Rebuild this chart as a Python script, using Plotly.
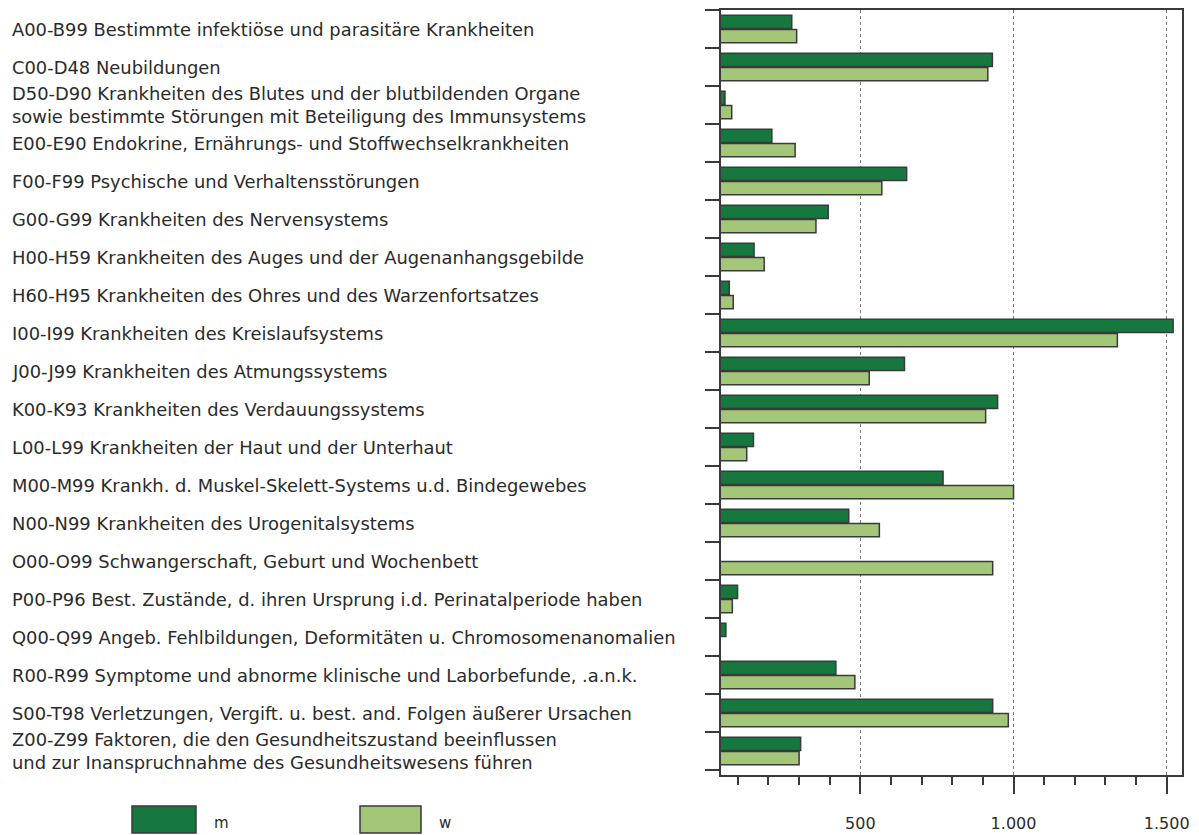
import plotly.graph_objects as go

categories = [
    "A00-B99 Bestimmte infektiöse und parasitäre Krankheiten",
    "C00-D48 Neubildungen",
    "D50-D90 Krankheiten des Blutes und der blutbildenden Organe<br>sowie bestimmte Störungen mit Beteiligung des Immunsystems",
    "E00-E90 Endokrine, Ernährungs- und Stoffwechselkrankheiten",
    "F00-F99 Psychische und Verhaltensstörungen",
    "G00-G99 Krankheiten des Nervensystems",
    "H00-H59 Krankheiten des Auges und der Augenanhangsgebilde",
    "H60-H95 Krankheiten des Ohres und des Warzenfortsatzes",
    "I00-I99 Krankheiten des Kreislaufsystems",
    "J00-J99 Krankheiten des Atmungssystems",
    "K00-K93 Krankheiten des Verdauungssystems",
    "L00-L99 Krankheiten der Haut und der Unterhaut",
    "M00-M99 Krankh. d. Muskel-Skelett-Systems u.d. Bindegewebes",
    "N00-N99 Krankheiten des Urogenitalsystems",
    "O00-O99 Schwangerschaft, Geburt und Wochenbett",
    "P00-P96 Best. Zustände, d. ihren Ursprung i.d. Perinatalperiode haben",
    "Q00-Q99 Angeb. Fehlbildungen, Deformitäten u. Chromosomenanomalien",
    "R00-R99 Symptome und abnorme klinische und Laborbefunde, .a.n.k.",
    "S00-T98 Verletzungen, Vergift. u. best. and. Folgen äußerer Ursachen",
    "Z00-Z99 Faktoren, die den Gesundheitszustand beeinflussen<br>und zur Inanspruchnahme des Gesundheitswesens führen",
]

m_values = [276, 931, 58, 211, 651, 395, 153, 72, 1521, 644, 948, 151, 770, 462, 0, 99, 61, 420, 932, 305]
w_values = [292, 916, 80, 287, 570, 355, 186, 85, 1339, 529, 909, 129, 1000, 562, 932, 82, 0, 482, 983, 300]

tick_values = [500, 1000, 1500]
tick_labels = ["500", "1.000", "1.500"]

DARK = "#17783f"
LIGHT = "#a3c679"
OUTLINE = "#3a3a3a"

ids = list(range(len(categories)))

fig = go.Figure()
fig.add_trace(go.Bar(
    y=ids, x=m_values, orientation="h", name="m",
    marker=dict(color=DARK, line=dict(color=OUTLINE, width=1.5)),
    showlegend=False,
))
fig.add_trace(go.Bar(
    y=ids, x=w_values, orientation="h", name="w",
    marker=dict(color=LIGHT, line=dict(color=OUTLINE, width=1.5)),
    showlegend=False,
))

font_family = "DejaVu Sans"
label_px = 10
plot_left = 721
plot_right = 1182
plot_top = 10
plot_bottom = 775
plot_w = plot_right - plot_left
plot_h = plot_bottom - plot_top

for i, cat in enumerate(categories):
    fig.add_annotation(
        x=(label_px - plot_left) / plot_w, xref="paper",
        y=i, yref="y", text=cat, showarrow=False,
        xanchor="left", yanchor="middle", align="left",
        font=dict(family=font_family, size=17.9, color="#2b2b2b"),
    )

# manual legend
legend_items = [("m", DARK, 132, 196, 212), ("w", LIGHT, 360, 421, 437)]
for name, col, x0, x1, tx in legend_items:
    fig.add_shape(
        type="rect", xref="paper", yref="paper",
        x0=(x0 - plot_left) / plot_w, x1=(x1 - plot_left) / plot_w,
        y0=-(833 - plot_bottom) / plot_h, y1=-(806 - plot_bottom) / plot_h,
        fillcolor=col, line=dict(color=OUTLINE, width=1.5),
    )
    fig.add_annotation(
        x=(tx - plot_left) / plot_w, xref="paper",
        y=-(823 - plot_bottom) / plot_h, yref="paper", text=name, showarrow=False,
        xanchor="left", yanchor="middle",
        font=dict(family=font_family, size=15, color="#2b2b2b"),
    )

fig.update_layout(
    width=1199, height=835,
    margin=dict(l=plot_left, r=1199 - plot_right, t=plot_top, b=835 - plot_bottom, autoexpand=False),
    plot_bgcolor="white", paper_bgcolor="white",
    barmode="group", bargap=0.26, bargroupgap=0.06,
    separators=",.",
    font=dict(family=font_family, color="#2b2b2b"),
)
fig.update_xaxes(
    range=[45, 1550],
    tickvals=tick_values, ticktext=tick_labels,
    ticks="outside", ticklen=17, tickwidth=1.5, tickcolor=OUTLINE,
    minor=dict(dtick=100, tick0=0, ticks="outside", ticklen=8, tickwidth=1.5, tickcolor=OUTLINE, showgrid=False),
    showgrid=True, gridcolor="#777777", griddash="dot", gridwidth=1,
    showline=True, linecolor=OUTLINE, linewidth=2, mirror=True,
    zeroline=False,
    tickfont=dict(family=font_family, size=16, color="#2b2b2b"),
    ticklabelstandoff=16,
)
fig.update_yaxes(
    type="category", autorange="reversed",
    tickmode="array", tickvals=ids, ticktext=[""] * len(ids),
    showticklabels=False,
    tickson="boundaries", ticks="outside", ticklen=14, tickwidth=2, tickcolor=OUTLINE,
    showgrid=False,
    showline=True, linecolor=OUTLINE, linewidth=2, mirror=True,
)

fig.write_html(
    "out.html",
    config={"displayModeBar": False},
    post_script="document.body.style.margin='0';document.body.style.overflow='hidden';",
)
